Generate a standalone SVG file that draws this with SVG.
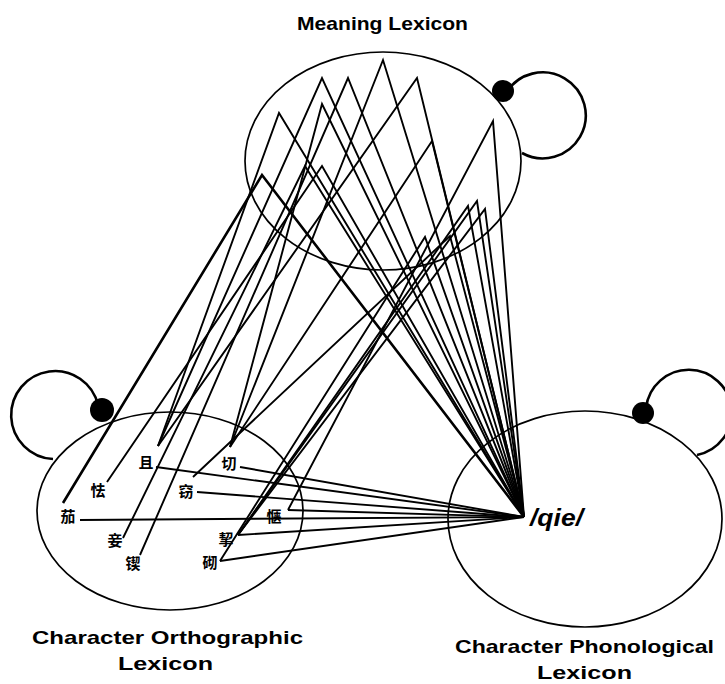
<svg xmlns="http://www.w3.org/2000/svg" width="725" height="684" viewBox="0 0 725 684">
  <style>
    .lex { fill: none; stroke: #000; stroke-width: 1.7; }
    .loop { fill: none; stroke: #000; stroke-width: 2.6; }
    .dot { fill: #000; }
    .link { fill: none; stroke: #000; stroke-width: 1.9; stroke-linejoin: miter; }
    .label { font-family: "Liberation Sans", Arial, sans-serif; font-weight: bold; font-size: 19px; fill: #000; }
    .han { font-family: "Noto Sans CJK SC", sans-serif; font-weight: bold; font-size: 15px; fill: #000; text-anchor: middle; }
    .phon { font-family: "Liberation Sans", Arial, sans-serif; font-weight: bold; font-style: italic; font-size: 23px; fill: #000; }
  </style>
  <rect width="725" height="684" fill="#fff"/>

  <!-- Meaning lexicon -->
  <g id="meaning">
    <ellipse class="lex" cx="383" cy="161" rx="138" ry="109"/>
    <path class="loop" d="M 506 93 A 43 43 0 1 1 522 153"/>
    <circle class="dot" cx="503" cy="91" r="11"/>
    <text class="label" x="297" y="30" textLength="171" lengthAdjust="spacingAndGlyphs">Meaning Lexicon</text>
  </g>

  <!-- Character orthographic lexicon -->
  <g id="orthographic">
    <ellipse class="lex" cx="170" cy="511" rx="133" ry="99"/>
    <path class="loop" d="M 98 405 A 44 44 0 1 0 53 459"/>
    <circle class="dot" cx="102" cy="410" r="12"/>
    <text class="label" x="32" y="644" textLength="271" lengthAdjust="spacingAndGlyphs">Character Orthographic</text>
    <text class="label" x="118" y="670" textLength="95" lengthAdjust="spacingAndGlyphs">Lexicon</text>
    <text class="han" x="146" y="468">且</text>
    <text class="han" x="229" y="469">切</text>
    <text class="han" x="98" y="496">怯</text>
    <text class="han" x="186" y="497">窃</text>
    <text class="han" x="68" y="522">茄</text>
    <text class="han" x="274" y="522">惬</text>
    <text class="han" x="115" y="546">妾</text>
    <text class="han" x="226" y="545">挈</text>
    <text class="han" x="133" y="569">锲</text>
    <text class="han" x="210" y="568">砌</text>
  </g>

  <!-- Character phonological lexicon -->
  <g id="phonological">
    <ellipse class="lex" cx="585" cy="519" rx="137" ry="108"/>
    <path class="loop" d="M 646 408 A 43 43 0 1 1 697 455"/>
    <circle class="dot" cx="643" cy="413" r="11"/>
    <text class="label" x="455" y="653" textLength="259" lengthAdjust="spacingAndGlyphs">Character Phonological</text>
    <text class="label" x="537" y="679" textLength="95" lengthAdjust="spacingAndGlyphs">Lexicon</text>
    <text class="phon" x="530" y="526" textLength="53" lengthAdjust="spacingAndGlyphs">/qie/</text>
  </g>

  <!-- Connectors: character -> meaning unit -> /qie/ -->
  <g id="connectors" class="link">
    <path d="M 230 447 L 383 60 L 524 517"/>
    <path d="M 158 446 L 322 78 L 524 517"/>
    <path d="M 140 555 L 348 78 L 524 517"/>
    <path d="M 158 446 L 417 78 L 524 517"/>
    <path d="M 158 446 L 279 113 L 524 517"/>
    <path d="M 230 447 L 322 104 L 524 517"/>
    <path d="M 288 510 L 493 121 L 524 517"/>
    <path d="M 63 503 L 262 175 L 524 517" stroke-width="2.6"/>
    <path d="M 123 538 L 305 166 L 524 517"/>
    <path d="M 107 482 L 322 166 L 524 517"/>
    <path d="M 230 447 L 432 141 L 524 517"/>
    <path d="M 238 535 L 477 201 L 524 517"/>
    <path d="M 238 535 L 468 206 L 524 517"/>
    <path d="M 238 535 L 485 209 L 524 517"/>
    <path d="M 220 561 L 425 237 L 524 517"/>
    <path d="M 193 477 L 450 236 L 524 517"/>
    <!-- direct character -> /qie/ links -->
    <path d="M 156 467 L 524 517"/>
    <path d="M 240 467 L 524 517"/>
    <path d="M 197 492 L 524 517"/>
    <path d="M 80 520 L 524 517"/>
    <path d="M 288 510 L 524 517"/>
    <path d="M 238 535 L 524 517"/>
    <path d="M 220 561 L 524 517"/>
  </g>
</svg>
